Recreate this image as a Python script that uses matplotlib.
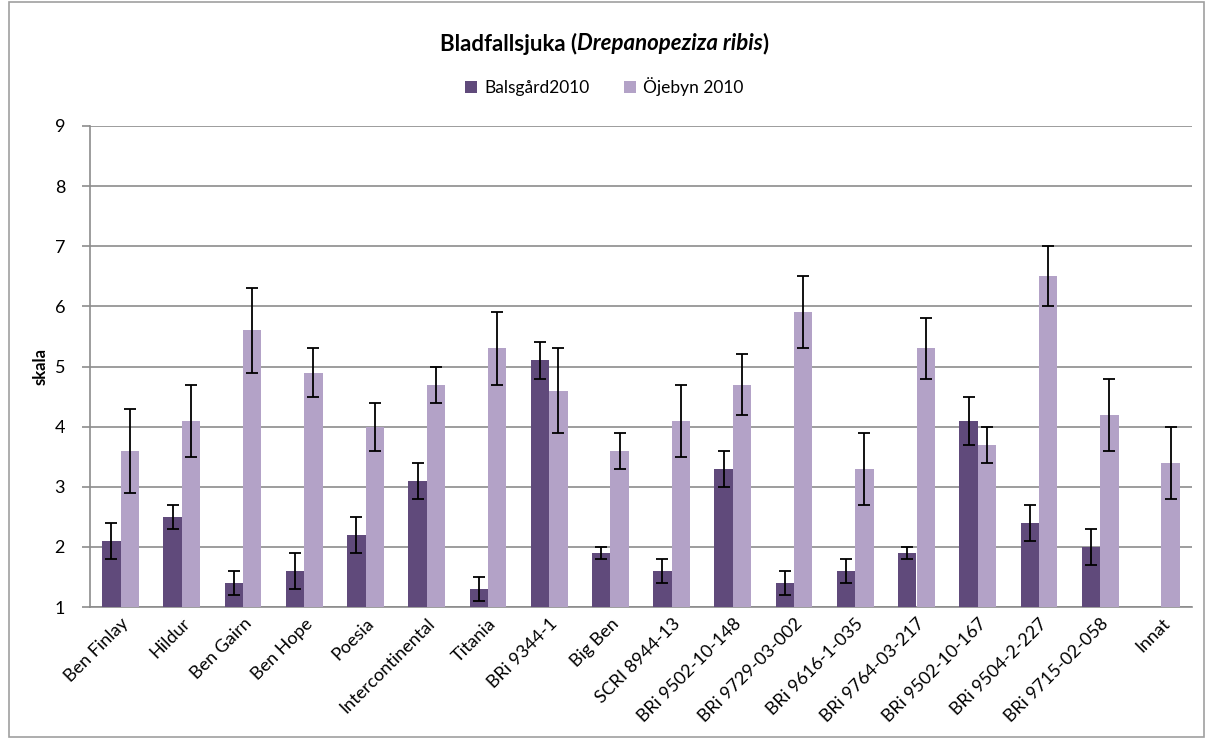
import numpy as np
import matplotlib
matplotlib.use("Agg")
import matplotlib.pyplot as plt
from matplotlib.patches import Rectangle

plt.rcParams["font.family"] = ["Lato", "DejaVu Sans"]

sorter = ["Ben Finlay", "Hildur", "Ben Gairn", "Ben Hope", "Poesia", "Intercontinental",
          "Titania", "BRi 9344-1", "Big Ben", "SCRI 8944-13", "BRi 9502-10-148",
          "BRi 9729-03-002", "BRi 9616-1-035", "BRi 9764-03-217", "BRi 9502-10-167",
          "BRi 9504-2-227", "BRi 9715-02-058", "Innat"]

# Balsgård 2010 (no value for Innat)
balsgard = [2.1, 2.5, 1.4, 1.6, 2.2, 3.1, 1.3, 5.1, 1.9, 1.6, 3.3, 1.4, 1.6, 1.9, 4.1, 2.4, 2.0, np.nan]
balsgard_err = [0.3, 0.2, 0.2, 0.3, 0.3, 0.3, 0.2, 0.3, 0.1, 0.2, 0.3, 0.2, 0.2, 0.1, 0.4, 0.3, 0.3, np.nan]

# Öjebyn 2010
ojebyn = [3.6, 4.1, 5.6, 4.9, 4.0, 4.7, 5.3, 4.6, 3.6, 4.1, 4.7, 5.9, 3.3, 5.3, 3.7, 6.5, 4.2, 3.4]
ojebyn_err = [0.7, 0.6, 0.7, 0.4, 0.4, 0.3, 0.6, 0.7, 0.3, 0.6, 0.5, 0.6, 0.6, 0.5, 0.3, 0.5, 0.6, 0.6]

title_parts = [("Bladfallsjuka (", "normal"), ("Drepanopeziza ribis", "italic"), (")", "normal")]

DARK = "#604a7b"
LIGHT = "#b3a2c7"
GRID = "#8c8c8c"

fig = plt.figure(figsize=(12.09, 7.38), dpi=100)
ax = fig.add_axes([90 / 1209, 1 - 607 / 738, 1102 / 1209, 481 / 738])

x = np.arange(len(sorter))
w = 0.3
err_kw = dict(ecolor="black", elinewidth=1.3, capsize=4.5, capthick=1.3)
ax.bar(x - w / 2, balsgard, w, color=DARK, yerr=balsgard_err, error_kw=err_kw,
       label="Balsgård2010", zorder=3)
ax.bar(x + w / 2, ojebyn, w, color=LIGHT, yerr=ojebyn_err, error_kw=err_kw,
       label="Öjebyn 2010", zorder=3)

ax.set_xlim(-0.5, len(sorter) - 0.5)
ax.set_ylim(1, 9)
ax.set_yticks(range(1, 10))
ax.yaxis.grid(True, color=GRID, linewidth=1.2, zorder=0)
ax.set_axisbelow(True)

for s in ["top", "right"]:
    ax.spines[s].set_visible(False)
for s in ["left", "bottom"]:
    ax.spines[s].set_color(GRID)
    ax.spines[s].set_linewidth(1.2)

ax.tick_params(axis="y", length=6, color=GRID, width=1.2, labelsize=13, pad=12)
ax.tick_params(axis="x", length=0, labelsize=13, pad=6)
ax.set_xticks(x)
ax.set_xticklabels(sorter, rotation=45, ha="right", rotation_mode="anchor")
ax.set_ylabel("skala", fontsize=12, fontweight="bold", labelpad=4)

# title built from pieces so the species name is bold italic
renderer = fig.canvas.get_renderer()
pieces = [fig.text(0, 1 - 44 / 738, t, fontsize=16, fontweight="bold", style=st, va="center")
          for t, st in title_parts]
widths = [p.get_window_extent(renderer).width for p in pieces]
x0 = (1209 - sum(widths)) / 2
for p, wd in zip(pieces, widths):
    p.set_x(x0 / 1209)
    x0 += wd

fig.legend(loc="center", bbox_to_anchor=(0.5, 1 - 87 / 738), ncol=2, frameon=False,
           fontsize=12.5, handlelength=0.7, handleheight=0.7, columnspacing=2.0,
           handletextpad=0.4)

fig.patches.append(Rectangle((9 / 1209, 0.002), 1195 / 1209, 0.995, transform=fig.transFigure,
                             fill=False, edgecolor="#a0a0a0", linewidth=1.2))

fig.savefig("out.png", dpi=100)
